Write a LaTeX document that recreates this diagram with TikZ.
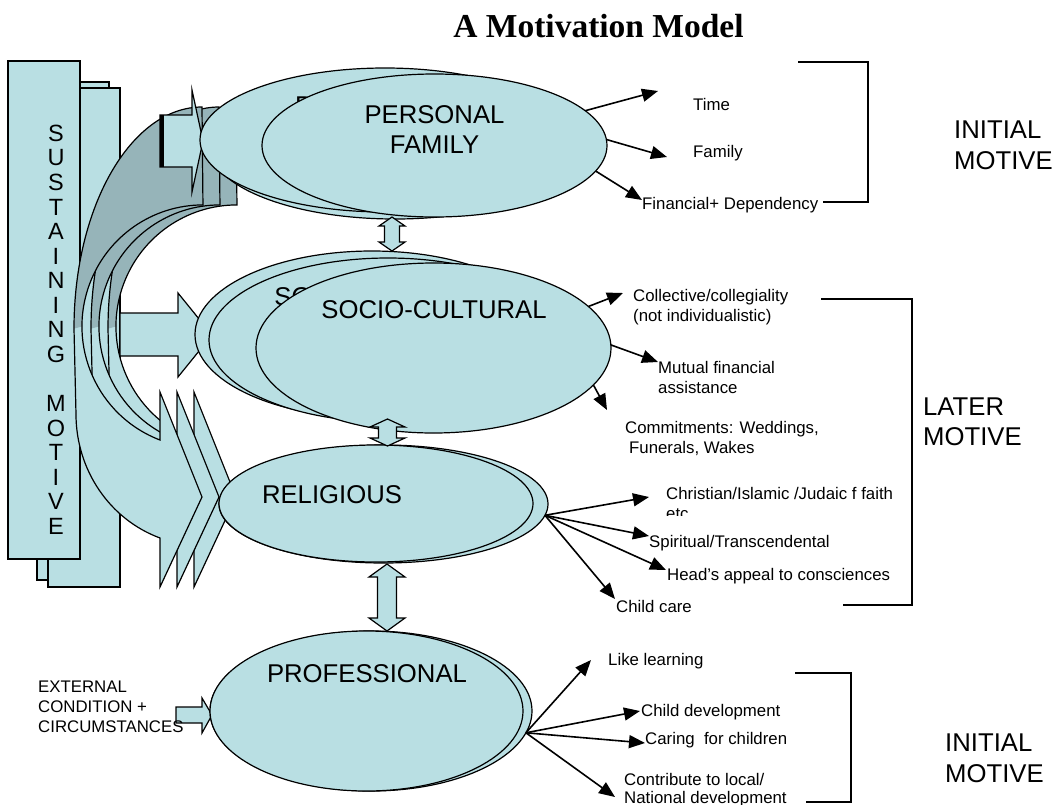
\documentclass[tikz,border=0pt]{standalone}
\usepackage{fontspec}
\setmainfont{Liberation Sans}
\newfontfamily\titlefont{Liberation Serif}
\usetikzlibrary{shapes.geometric,arrows.meta}
\definecolor{lightfill}{RGB}{185,223,227}
\definecolor{darkfill}{RGB}{150,180,185}
\newcommand{\curvarrshape}{%
  \fill[lightfill] (202,107) arc[start angle=270,end angle=180,x radius=128,y radius=221.6]
     -- (76,414.2) arc[start angle=180,end angle=109.47,x radius=126,y radius=131.3]
     -- (160,587) -- (202,497) -- (160,392) -- (160,440)
     arc[start angle=110.8,end angle=270,x radius=121,y radius=121.5] -- cycle;
  \fill[darkfill] (202,107) arc[start angle=270,end angle=180,x radius=128,y radius=221.6]
     -- (82,326.5) arc[start angle=180,end angle=270,x radius=121,y radius=121.5] -- cycle;
  \draw[line width=1.2pt,line join=miter] (202,107) arc[start angle=270,end angle=180,x radius=128,y radius=221.6]
     -- (76,414.2) arc[start angle=180,end angle=109.47,x radius=126,y radius=131.3]
     -- (160,587) -- (202,497) -- (160,392) -- (160,440)
     arc[start angle=110.8,end angle=270,x radius=121,y radius=121.5] -- cycle;
}
\begin{document}
\begin{tikzpicture}[x=1pt,y=-1pt,
  shp/.style={draw=black,line width=1.2pt,fill=lightfill,line join=miter},
  ell/.style={shp,shape=ellipse,inner sep=0pt,outer sep=0pt},
  smalltxt/.style={font=\fontsize{16.8}{20.5}\selectfont,inner sep=0pt,align=left,anchor=north west},
  bigtxt/.style={font=\fontsize{25.7}{29.5}\selectfont,inner sep=0pt},
  conn/.style={line width=1.6pt,-{Triangle[length=16pt,width=13pt]}},
  brk/.style={line width=1.2pt},
]
\useasboundingbox (0,0) rectangle (1053,804);

% sustaining motive column
\draw[shp] (37,82) rectangle (109,580);
\draw[shp] (48,88) rectangle (120,587);
\draw[shp] (8,61) rectangle (80,559);
\node[font=\fontsize{23.5}{24.56}\selectfont,align=center,inner sep=0pt] (sust) at (56,329.6)
  {S\\U\\S\\T\\A\\I\\N\\I\\N\\G\\[24.56pt]M\\O\\T\\I\\V\\E};

% curved arrows (three stacked copies)
\begin{scope}[xshift=34pt]\curvarrshape\end{scope}
\begin{scope}[xshift=17pt]\curvarrshape\end{scope}
\curvarrshape

% block arrow to personal family
\draw[shp] (160,115) -- (192,115) -- (192,90) -- (203,141) -- (192,192) -- (192,167) -- (160,167) -- cycle;
\draw[line width=4.5pt] (162,115) -- (162,167);

% block arrow to socio-cultural
\draw[shp] (120,313) -- (178,313) -- (178,293) -- (212,335) -- (178,377) -- (178,356) -- (120,356) -- cycle;

% external condition arrow
\draw[shp] (176,707) -- (202,707) -- (202,698) -- (212,715) -- (202,733) -- (202,723) -- (176,723) -- cycle;

% personal family
\node[ell,minimum width=370pt,minimum height=144pt] (pb2) at (395,147) {};
\node[ell,minimum width=370pt,minimum height=144pt] (pb1) at (385,140) {};
\node[bigtxt,anchor=north,align=center] (pbt) at (365,96) {PERSONAL\\FAMILY};
\node[ell,minimum width=345pt,minimum height=143pt] (pf) at (434.5,145.5) {};
\node[bigtxt,anchor=north,align=center] (pft) at (434.5,105.8) {PERSONAL\\FAMILY};

% socio-cultural
\node[ell,minimum width=354pt,minimum height=167pt] (sb1) at (372,334.5) {};
\node[ell,minimum width=358pt,minimum height=164pt] (sb2) at (388,340) {};
\node[bigtxt,anchor=north] (sbt) at (387,287) {SOCIO-CULTURAL};
\node[ell,minimum width=355pt,minimum height=170pt] (sf) at (433.5,348) {};
\node[bigtxt,anchor=north] (sft) at (434,300) {SOCIO-CULTURAL};

% religious
\node[ell,minimum width=329pt,minimum height=118pt] (rb) at (383.5,504) {};
\node[ell,minimum width=314pt,minimum height=117pt] (rf) at (376,503.5) {};
\node[bigtxt,anchor=north] (rft) at (332,485) {RELIGIOUS};

% professional
\node[ell,minimum width=322pt,minimum height=160pt] (prb) at (371,711) {};
\node[ell,minimum width=313pt,minimum height=160pt] (prf) at (366.5,711) {};
\node[bigtxt,anchor=north] (prft) at (367,664) {PROFESSIONAL};

% up-down arrows
\draw[shp] (392,217) -- (405,226) -- (399.5,226) -- (399.5,242) -- (405,242) -- (392,251)
  -- (379,242) -- (384.5,242) -- (384.5,226) -- (379,226) -- cycle;
\draw[shp] (387.5,419) -- (405,427) -- (396.5,427) -- (396.5,438) -- (405,438) -- (387.5,446)
  -- (370,438) -- (378.5,438) -- (378.5,427) -- (370,427) -- cycle;
\draw[shp] (387,564) -- (405,577) -- (396.5,577) -- (396.5,618) -- (405,618) -- (387,631)
  -- (369,618) -- (377.5,618) -- (377.5,577) -- (369,577) -- cycle;

% arrow end points
\coordinate (eTime) at (658,91);
\coordinate (eFam) at (667,157);
\coordinate (eFin) at (642,200);
\coordinate (eColl) at (623,293);
\coordinate (eMut) at (658,362);
\coordinate (eCom) at (607,410);
\coordinate (eChr) at (649,497);
\coordinate (eSpi) at (649,536);
\coordinate (eHead) at (666,570);
\coordinate (eCare) at (615,599);
\coordinate (eLike) at (591,660);
\coordinate (eDev) at (640,711);
\coordinate (eCar) at (645,743);
\coordinate (eCon) at (615,797);

\draw[conn] (pf.13) -- (eTime);
\draw[conn] (pf.2) -- (eFam);
\draw[conn] (pf.-9.3) -- (eFin);
\draw[conn] (sf.15.2) -- (eColl);
\draw[conn] (sf.1.6) -- (eMut);
\draw[conn] (sf.-13.8) -- (eCom);
\draw[conn] (rb.-4) -- (eChr);
\draw[conn] (rb.-4) -- (eSpi);
\draw[conn] (rb.-4) -- (eHead);
\draw[conn] (rb.-4) -- (eCare);
\draw[conn] (prb.-8) -- (eLike);
\draw[conn] (prb.-8) -- (eDev);
\draw[conn] (prb.-8) -- (eCar);
\draw[conn] (prb.-8) -- (eCon);

% labels
\node[smalltxt] (tTime) at (693,98) {Time};
\node[smalltxt] (tFam) at (693,145) {Family};
\node[smalltxt] (tFin) at (642,197) {Financial+ Dependency};
\node[smalltxt] (tColl) at (633,289) {Collective/collegiality\\(not individualistic)};
\node[smalltxt] (tMut) at (658,361) {Mutual financial\\assistance};
\node[smalltxt] (tCom) at (625,421) {Commitments: Weddings,\\\hspace*{4pt}Funerals, Wakes};
\begin{scope}
\clip (655,480) rectangle (945,515);
\node[smalltxt] (tChr) at (666,487) {Christian/Islamic /Judaic f faith\\etc};
\end{scope}
\node[smalltxt] (tSpi) at (649,535) {Spiritual/Transcendental};
\node[smalltxt] (tHead) at (667,568) {Head’s appeal to consciences};
\node[smalltxt] (tCare) at (616,600) {Child care};
\node[smalltxt] (tLike) at (608,653) {Like learning};
\node[smalltxt] (tDev) at (641,704) {Child development};
\node[smalltxt] (tCar) at (645,732) {Caring~ for children};
\node[smalltxt,font=\fontsize{16.8}{18.5}\selectfont] (tCon) at (624,773) {Contribute to local/\\National development};
\node[smalltxt,font=\fontsize{16.8}{20}\selectfont] (tExt) at (38,681) {EXTERNAL\\CONDITION +\\CIRCUMSTANCES};

% brackets
\draw[brk] (798,62) -- (868,62) -- (868,202) -- (823,202);
\draw[brk] (821,299) -- (912,299) -- (912,605) -- (843,605);
\draw[brk] (795,673) -- (851,673) -- (851,802) -- (806,802);

% motive labels
\node[bigtxt,align=left,anchor=north west,font=\fontsize{25.7}{31}\selectfont] (m1) at (954,121) {INITIAL\\MOTIVE};
\node[bigtxt,align=left,anchor=north west,font=\fontsize{25.7}{30}\selectfont] (m2) at (923,398) {LATER\\MOTIVE};
\node[bigtxt,align=left,anchor=north west,font=\fontsize{25.7}{30.5}\selectfont] (m3) at (945,734) {INITIAL\\MOTIVE};

% title
\node[font=\titlefont\bfseries\fontsize{33.5}{36}\selectfont,anchor=base,inner sep=0pt] (title) at (598.5,37) {A Motivation Model};
\end{tikzpicture}
\end{document}
